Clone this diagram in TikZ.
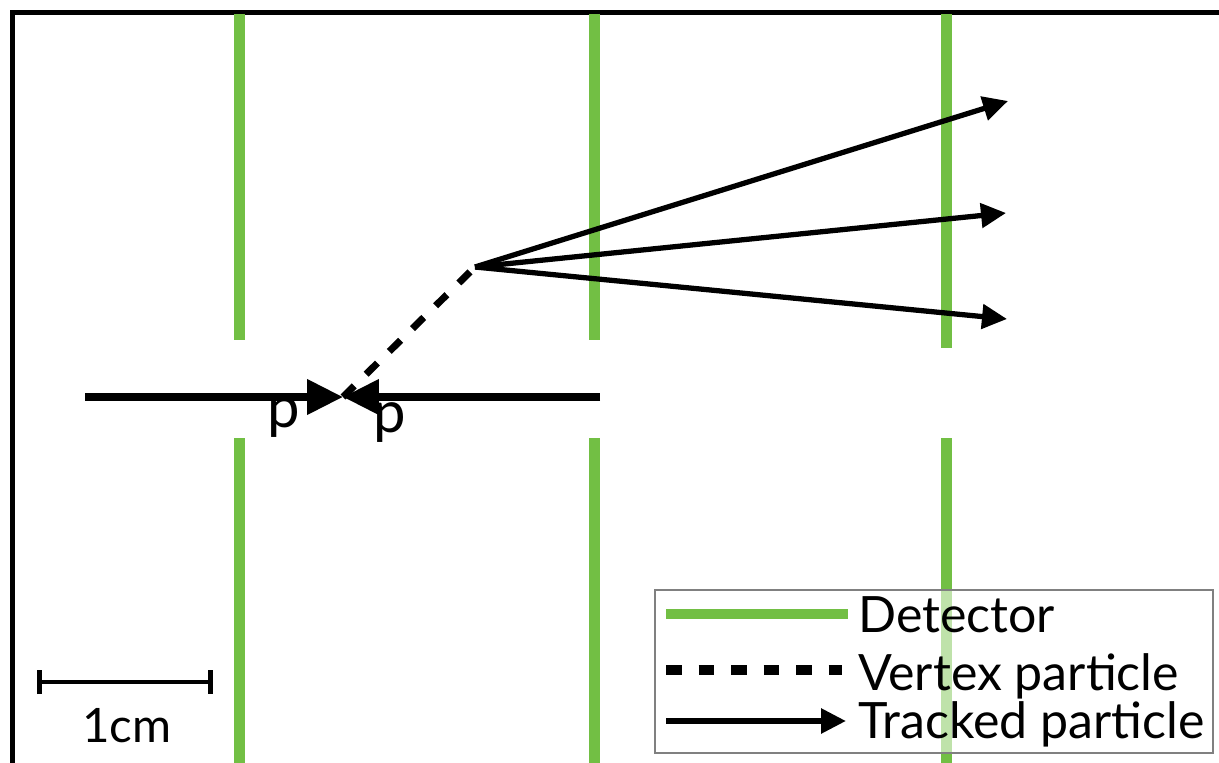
\documentclass[tikz,border=0pt]{standalone}
\usepackage{fontspec}
\setmainfont{Lato}
\usetikzlibrary{arrows.meta,calc,positioning}
\definecolor{detgreen}{RGB}{114,191,68}
\definecolor{leggray}{RGB}{128,128,128}

\begin{document}
\begin{tikzpicture}[x=0.02cm,y=-0.02cm,
  lbl/.style={inner sep=0pt,font=\fontsize{28.5}{32}\selectfont},
  detector/.style={detgreen,line width=6.2pt},
  beam/.style={line width=4.2pt,-{Triangle[length=0.72cm,width=0.68cm]}},
  track/.style={line width=3pt,-{Triangle[length=0.5cm,width=0.48cm]}},
  vertexline/.style={line width=4pt,dash pattern=on 9pt off 9.5pt}]
\useasboundingbox (0,0) rectangle (1219,763);
% frame
\draw[line width=2.9pt] (12.5,763) -- (12.5,12.5) -- (1219,12.5);
% detector planes
\foreach \x/\y in {239.5/340,594.5/340,946.5/348}{
  \draw[detector] (\x,14) -- (\x,\y);
  \draw[detector] (\x,438) -- (\x,763);
}
% colliding beams
\coordinate (ip) at (343,397);
\coordinate (pl) at (85,397);
\coordinate (pr) at (600,397);
\draw[beam] (pl) -- (ip);
\draw[beam] (pr) -- (ip);
\node[lbl,anchor=base,font=\fontsize{33}{36}\selectfont] (p1) at (284,427) {p};
\node[lbl,anchor=base,font=\fontsize{33}{36}\selectfont] (p2) at (390,432) {p};
% decay vertex and tracks
\coordinate (dv) at (475,267);
\draw[vertexline] (ip) -- (dv);
\coordinate (t1) at (1008,101);
\coordinate (t2) at (1006,213);
\coordinate (t3) at (1007,319);
\foreach \t in {t1,t2,t3}
  \draw[track] (dv) -- (\t);
% scale bar
\coordinate (sa) at (37,682);
\coordinate (sb) at (213,682);
\draw[line width=2.8pt,{Bar[width=0.48cm]}-{Bar[width=0.48cm]}] (sa) -- (sb);
\node[lbl,anchor=base,font=\fontsize{27}{32}\selectfont] (cm) at (127,742) {1cm};
% legend
\filldraw[fill=white,fill opacity=0.55,draw=leggray,line width=1.2pt] (655,590) rectangle (1213,753);
\draw[detector,line width=6pt] (666,614) -- (848,614);
\node[lbl,anchor=base west] (legdet) at (858,632) {Detector};
\draw[vertexline,line width=5.5pt] (666,670) -- (842,670);
\node[lbl,anchor=base west] (legvtx) at (858,690) {Vertex particle};
\draw[track,line width=3.3pt] (666,721) -- (846,721);
\node[lbl,anchor=base west] (legtrk) at (858,738) {Tracked particle};
\end{tikzpicture}
\end{document}
